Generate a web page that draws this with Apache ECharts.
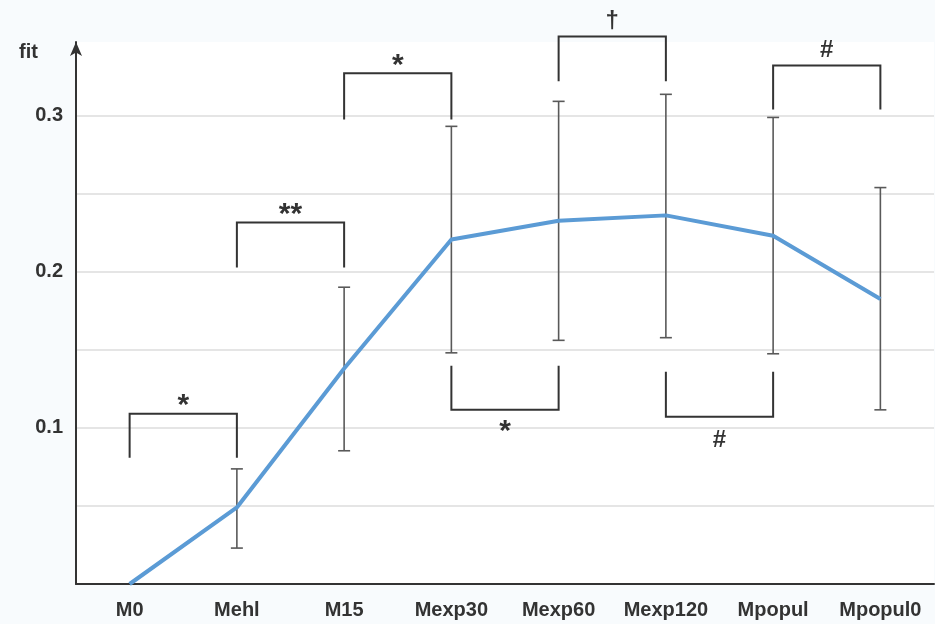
<!DOCTYPE html>
<html>
<head>
<meta charset="utf-8">
<script src="https://cdn.jsdelivr.net/npm/echarts@6/dist/echarts.min.js"></script>
<style>
  html, body { margin: 0; padding: 0; background: #f8fbfd; }
  #chart { width: 935px; height: 624px; }
</style>
</head>
<body>
<div id="chart"></div>
<script>
// Model names along the x axis
const categories = ['M0', 'Mehl', 'M15', 'Mexp30', 'Mexp60', 'Mexp120', 'Mpopul', 'Mpopul0'];
// Mean fit per model
const fitValues = [0, 0.049, 0.138, 0.2205, 0.2325, 0.236, 0.223, 0.1825];
// Error bar ends (null where no bar is drawn)
const errLow  = [null, 0.023, 0.0853, 0.148, 0.156, 0.1577, 0.1474, 0.1115];
const errHigh = [null, 0.0737, 0.190, 0.293, 0.309, 0.3135, 0.2987, 0.2538];
// Significance brackets: [from index, to index, bar level, leg end level, marker]
const brackets = [
  [0, 1, 0.109, 0.0808, '*'],
  [1, 2, 0.2314, 0.2026, '**'],
  [2, 3, 0.327, 0.2974, '*'],
  [3, 4, 0.1115, 0.1397, '*'],
  [4, 5, 0.3506, 0.3218, '†'],
  [5, 6, 0.107, 0.1359, '#'],
  [6, 7, 0.332, 0.3038, '#']
];
// Labelled y ticks
const yTickLabels = [0.1, 0.2, 0.3];

const chart = echarts.init(document.getElementById('chart'));
const FONT = '"Liberation Sans", Arial, sans-serif';

const errData = categories.map((c, i) => [i, errLow[i], errHigh[i]]).filter(d => d[1] != null);

chart.setOption({
  animation: false,
  backgroundColor: '#f8fbfd',
  grid: { left: 76, right: 1, top: 42, bottom: 40, show: true, backgroundColor: '#ffffff', borderWidth: 0 },
  xAxis: {
    type: 'category',
    data: categories,
    boundaryGap: true,
    axisLine: { lineStyle: { color: '#333', width: 2 } },
    axisTick: { show: false },
    axisLabel: { interval: 0, color: '#333', fontFamily: FONT, fontWeight: 'bold', fontSize: 20, margin: 16 },
    splitLine: { show: false }
  },
  yAxis: {
    type: 'value',
    min: 0,
    max: 0.347,
    interval: 0.05,
    name: 'fit',
    nameLocation: 'end',
    nameGap: -10,
    nameTextStyle: { color: '#333', fontFamily: FONT, fontWeight: 'bold', fontSize: 20, align: 'right', verticalAlign: 'middle', padding: [0, 38, 0, 0] },
    axisLine: { show: true, symbol: ['none', 'arrow'], symbolSize: [9, 14], lineStyle: { color: '#333', width: 2 } },
    axisTick: { show: false },
    axisLabel: {
      color: '#333', fontFamily: FONT, fontWeight: 'bold', fontSize: 20, margin: 13,
      formatter: v => {
        const hit = yTickLabels.find(t => Math.abs(t - v) < 1e-6);
        return hit != null ? String(hit) : '';
      }
    },
    splitLine: { show: true, showMaxLine: false, lineStyle: { color: '#dcdcdc', width: 1.5 } }
  },
  series: [
    {
      type: 'line',
      data: fitValues,
      symbol: 'none',
      lineStyle: { color: '#5b9bd5', width: 4 },
      z: 3
    },
    {
      type: 'custom',
      data: errData,
      z: 2,
      renderItem: (params, api) => {
        const x = api.value(0);
        const lo = api.coord([x, api.value(1)]);
        const hi = api.coord([x, api.value(2)]);
        const hw = 6;
        const style = { stroke: '#595959', lineWidth: 1.6 };
        return {
          type: 'group',
          children: [
            { type: 'line', shape: { x1: lo[0], y1: lo[1], x2: hi[0], y2: hi[1] }, style },
            { type: 'line', shape: { x1: lo[0] - hw, y1: lo[1], x2: lo[0] + hw, y2: lo[1] }, style },
            { type: 'line', shape: { x1: hi[0] - hw, y1: hi[1], x2: hi[0] + hw, y2: hi[1] }, style }
          ]
        };
      }
    },
    {
      type: 'custom',
      data: brackets.map(b => [b[0], b[1], b[2], b[3]]),
      clip: false,
      z: 4,
      renderItem: (params, api) => {
        const b = brackets[params.dataIndex];
        const a = api.coord([api.value(0), api.value(2)]);
        const c = api.coord([api.value(1), api.value(2)]);
        const legA = api.coord([api.value(0), api.value(3)]);
        const above = api.value(2) > api.value(3);
        const isStar = b[4].indexOf('*') >= 0;
        const style = { stroke: '#333', lineWidth: 2, fill: 'none' };
        const midX = (a[0] + c[0]) / 2;
        // asterisks sit high in the em box, so they need a smaller lift
        const textY = above ? a[1] - (isStar ? 8 : 15) : a[1] + (isStar ? 22 : 24);
        return {
          type: 'group',
          children: [
            { type: 'polyline', shape: { points: [[a[0], legA[1]], a, c, [c[0], legA[1]]] }, style },
            {
              type: 'text',
              style: {
                text: b[4], x: midX, y: textY,
                align: 'center', verticalAlign: 'middle',
                fill: '#333',
                fontFamily: FONT, fontWeight: 'bold', fontSize: isStar ? 30 : 24
              }
            }
          ]
        };
      }
    }
  ]
});
</script>
</body>
</html>
